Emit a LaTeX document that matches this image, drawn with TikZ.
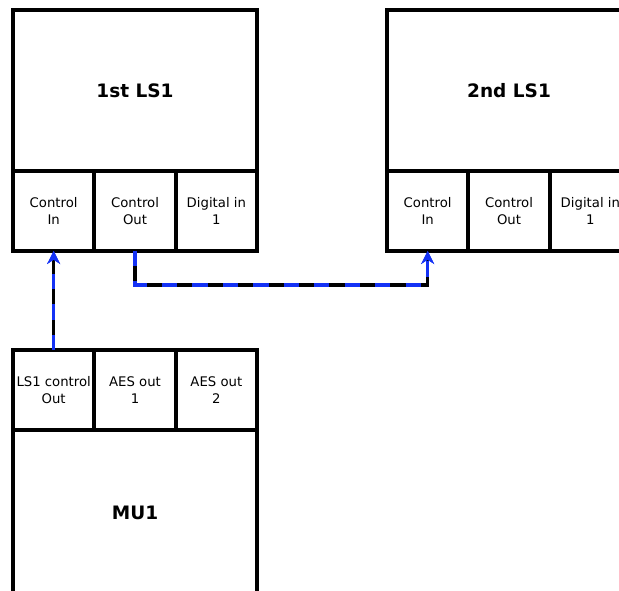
\documentclass[tikz,border=0pt]{standalone}
\usepackage{fontspec}
\setmainfont{DejaVu Sans}
\usepackage{tikz}
\usetikzlibrary{arrows.meta, positioning}
\definecolor{linkblue}{RGB}{20,50,245}
\tikzset{
  devbox/.style={rectangle, draw=black, fill=white, line width=3.2pt,
    minimum width=7.32cm, minimum height=4.83cm, outer sep=0pt,
    inner sep=0pt, font=\fontsize{15.8}{19}\selectfont\bfseries},
  portbox/.style={rectangle, draw=black, fill=white, line width=3.2pt,
    minimum width=2.44cm, minimum height=2.4cm, outer sep=0pt,
    inner sep=0pt, align=center, font=\fontsize{11.3}{14}\selectfont},
  link/.style={line width=2.8pt, draw=black,
    -{Stealth[linkblue, length=11pt, width=11pt]},
    postaction={draw=linkblue, dash pattern=on 13pt off 13pt}}
}

\begin{document}
\begin{tikzpicture}[x=0.03cm, y=-0.03cm]
  \useasboundingbox (0,0) rectangle (619,591);
  \clip (0,0) rectangle (619,591);
  % first loudspeaker
  \node[devbox, anchor=north west] (ls1) at (13,10) {1st LS1};
  \node[portbox, anchor=north west] (ls1in) at (ls1.south west) {Control\\In};
  \node[portbox, right=0pt of ls1in]  (ls1out) {Control\\Out};
  \node[portbox, right=0pt of ls1out] (ls1dig) {Digital in\\1};
  % second loudspeaker
  \node[devbox, anchor=north west] (ls2) at (387,10) {2nd LS1};
  \node[portbox, anchor=north west] (ls2in) at (ls2.south west) {Control\\In};
  \node[portbox, right=0pt of ls2in]  (ls2out) {Control\\Out};
  \node[portbox, right=0pt of ls2out] (ls2dig) {Digital in\\1};
  % main unit
  \node[portbox, anchor=north west] (mu1ctl) at (13,350) {LS1 control\\Out};
  \node[portbox, right=0pt of mu1ctl] (mu1aes1) {AES out\\1};
  \node[portbox, right=0pt of mu1aes1] (mu1aes2) {AES out\\2};
  \node[devbox, minimum height=5cm, anchor=north west] (mu1)
    at (mu1ctl.south west) {MU1};
  % control links
  \draw[link] (mu1ctl.north) -- (ls1in.south);
  \draw[link] (ls1out.south) -- ++(0,34) -| (ls2in.south);
\end{tikzpicture}
\end{document}
